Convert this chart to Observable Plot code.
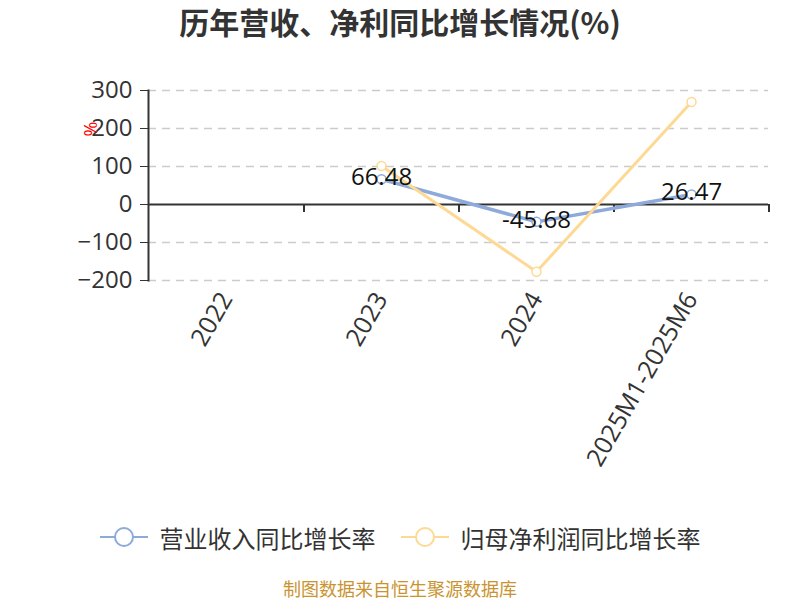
<!DOCTYPE html>
<html>
<head>
<meta charset="utf-8">
<script src="https://cdn.jsdelivr.net/npm/d3@7"></script>
<script src="https://cdn.jsdelivr.net/npm/@observablehq/plot@0.6"></script>
<style>
  html, body { margin: 0; padding: 0; background: #fff; width: 800px; height: 600px; overflow: hidden; }
  #title { height: 48px; line-height: 42px; text-align: center; font-family: "Noto Sans CJK SC", sans-serif; font-weight: bold; font-size: 30px; color: #333; }
  #chart { height: 462px; }
  #legend { height: 54px; display: flex; justify-content: center; align-items: center; gap: 25px; font-family: "Noto Sans CJK SC", sans-serif; font-size: 24px; color: #333; }
  .item { display: flex; align-items: center; gap: 12px; }
  #footer { margin-top: 12px; height: 24px; line-height: 24px; text-align: center; font-family: "Noto Sans CJK SC", sans-serif; font-size: 18px; color: #c9942f; }
</style>
</head>
<body>
<div id="title"></div>
<div id="chart"></div>
<div id="legend"></div>
<div id="footer"></div>
<script>
const titleText = "历年营收、净利同比增长情况(%)";
const footerText = "制图数据来自恒生聚源数据库";
const categories = ["2022", "2023", "2024", "2025M1-2025M6"];
const revenueGrowth = [null, 66.48, -45.68, 26.47];
const profitGrowth = [null, 101.6, -177, 270];
const seriesNames = ["营业收入同比增长率", "归母净利润同比增长率"];
const seriesColors = ["#8eaadb", "#fdd994"];
const yTicks = [-200, -100, 0, 100, 200, 300];
const yUnit = "%";

const toRows = (vals) => categories.map((c, i) => ({cat: c, value: vals[i]})).filter(d => d.value != null);
const revRows = toRows(revenueGrowth);
const profRows = toRows(profitGrowth);

document.getElementById("title").textContent = titleText;
document.getElementById("footer").textContent = footerText;

const W = 800, ML = 148, MR = 32;
const halfStep = (W - ML - MR) / categories.length / 2;

const chart = Plot.plot({
  width: W,
  height: 462,
  marginLeft: ML,
  marginRight: MR,
  marginTop: 42,
  marginBottom: 230,
  style: {fontFamily: "'Open Sans', sans-serif", overflow: "visible", background: "transparent"},
  x: {type: "point", domain: categories, padding: 0.5, align: 0.5, label: null},
  y: {domain: [-200, 300], label: null},
  marks: [
    Plot.gridY(yTicks.filter(v => v !== 0), {stroke: "#ccc", strokeOpacity: 1, strokeDasharray: "8,6", strokeWidth: 1.5}),
    Plot.ruleY([0], {stroke: "#333", strokeWidth: 2}),
    Plot.ruleX(categories, {x: d => d, y1: 0, y2: -21, dx: halfStep, stroke: "#333", strokeWidth: 2}),
    Plot.frame({anchor: "left", stroke: "#333", strokeWidth: 2}),
    Plot.axisY(yTicks, {tickSize: 8, tickPadding: 8, fontSize: 24, color: "#333", label: null}),
    Plot.axisX({tickSize: 0, tickRotate: -60, tickPadding: 14, fontSize: 25, color: "#333", label: null}),
    Plot.line(revRows, {x: "cat", y: "value", stroke: seriesColors[0], strokeWidth: 3.5}),
    Plot.dot(revRows, {x: "cat", y: "value", r: 4.5, fill: "white", stroke: seriesColors[0], strokeWidth: 1.5}),
    Plot.line(profRows, {x: "cat", y: "value", stroke: seriesColors[1], strokeWidth: 3}),
    Plot.dot(profRows, {x: "cat", y: "value", r: 4.5, fill: "white", stroke: seriesColors[1], strokeWidth: 1.5}),
    Plot.text(revRows, {x: "cat", y: "value", text: d => d.value.toFixed(2), fontSize: 24, fill: "#111", dy: -2}),
    Plot.text([yUnit], {text: d => d, frameAnchor: "top-left", dx: -64, dy: 46, rotate: -90, fill: "red", fontSize: 18})
  ]
});
document.getElementById("chart").appendChild(chart);

const legend = document.getElementById("legend");
seriesNames.forEach((name, i) => {
  const item = document.createElement("div");
  item.className = "item";
  item.innerHTML = `<svg width="48" height="24"><line x1="0" y1="12" x2="48" y2="12" stroke="${seriesColors[i]}" stroke-width="2"/><circle cx="24" cy="12" r="9" fill="white" stroke="${seriesColors[i]}" stroke-width="2"/></svg><span>${name}</span>`;
  legend.appendChild(item);
});
</script>
</body>
</html>
